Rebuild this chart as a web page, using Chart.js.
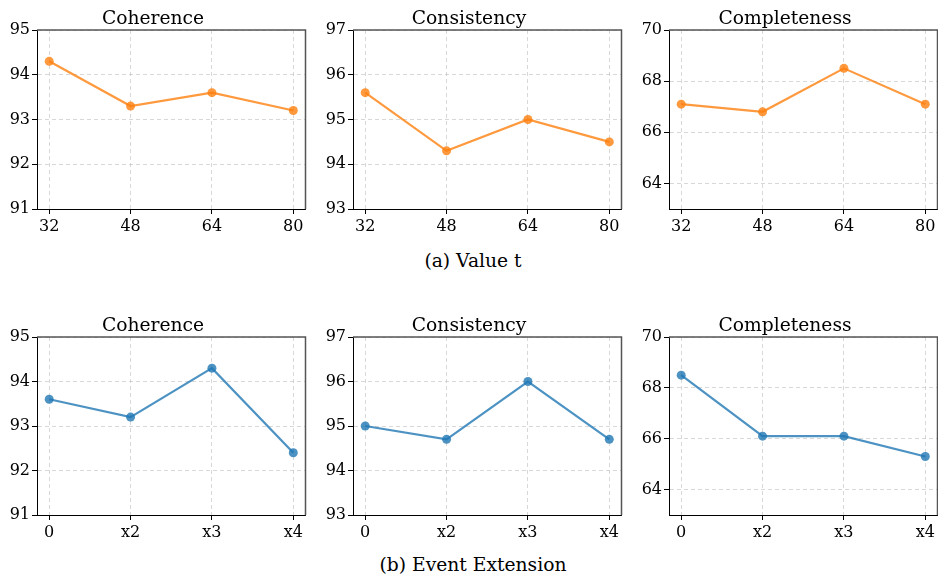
<!DOCTYPE html>
<html>
<head>
<meta charset="utf-8">
<script src="https://cdn.jsdelivr.net/npm/chart.js@4/dist/chart.umd.min.js"></script>
<style>
  html, body { margin: 0; padding: 0; background: #fff; overflow: hidden; }
  #page { position: relative; width: 938px; height: 577px; overflow: hidden; }
  canvas { position: absolute; }
  .caption {
    position: absolute; left: 0; width: 946px; text-align: center;
    font-family: 'DejaVu Serif', serif; font-size: 18.7px; line-height: 20px; color: #000;
  }
</style>
</head>
<body>
<div id="page">
  <canvas id="c0" width="310" height="239" style="left:0px;top:0px"></canvas>
  <canvas id="c1" width="310" height="239" style="left:316px;top:0px"></canvas>
  <canvas id="c2" width="310" height="239" style="left:632px;top:0px"></canvas>
  <div class="caption" style="top:251px">(a) Value t</div>
  <canvas id="c3" width="310" height="238" style="left:0px;top:307px"></canvas>
  <canvas id="c4" width="310" height="238" style="left:316px;top:307px"></canvas>
  <canvas id="c5" width="310" height="238" style="left:632px;top:307px"></canvas>
  <div class="caption" style="top:555px">(b) Event Extension</div>
</div>
<script>
// x categories
const valueTLabels = ['32', '48', '64', '80'];
const extensionLabels = ['0', 'x2', 'x3', 'x4'];

// (a) Value t
const valueTCoherence = [94.3, 93.3, 93.6, 93.2];
const valueTConsistency = [95.6, 94.3, 95.0, 94.5];
const valueTCompleteness = [67.1, 66.8, 68.5, 67.1];

// (b) Event Extension
const extensionCoherence = [93.6, 93.2, 94.3, 92.4];
const extensionConsistency = [95.0, 94.7, 96.0, 94.7];
const extensionCompleteness = [68.5, 66.1, 66.1, 65.3];

// y ticks per metric
const coherenceTicks = [91, 92, 93, 94, 95];
const consistencyTicks = [93, 94, 95, 96, 97];
const completenessTicks = [64, 66, 68, 70];
const completenessMin = 63;

Chart.defaults.font.family = "'DejaVu Serif', serif";
Chart.defaults.color = '#000';

const orange = 'rgba(255, 127, 14, 0.8)';
const blue = 'rgba(31, 119, 180, 0.8)';

// top and right spines, like a matplotlib box
const boxPlugin = {
  id: 'box',
  afterDatasetsDraw(chart) {
    const a = chart.chartArea;
    const ctx = chart.ctx;
    ctx.save();
    ctx.strokeStyle = '#555';
    ctx.lineWidth = 1.5;
    ctx.beginPath();
    ctx.moveTo(a.left, a.top);
    ctx.lineTo(a.right, a.top);
    ctx.lineTo(a.right, a.bottom);
    ctx.stroke();
    ctx.restore();
  }
};

makePanel = (id, title, labels, values, color, yTicks, yMin) => {
  const points = values.map((v, i) => ({x: i, y: v}));
  const gridOpts = {
    color: 'rgba(190, 190, 190, 0.75)',
    lineWidth: 0.8,
    drawTicks: true,
    tickLength: 5,
    tickColor: '#000',
    tickWidth: 1,
    tickBorderDash: []
  };
  // border.dash dashes the grid lines in v4, not the axis line
  const borderOpts = { color: '#000', width: 1, dash: [4, 3] };
  new Chart(document.getElementById(id), {
    type: 'line',
    data: {
      datasets: [{
        data: points,
        borderColor: color,
        backgroundColor: color,
        borderWidth: 2.2,
        pointRadius: 4.5,
        pointBorderWidth: 0,
        pointBackgroundColor: color,
        tension: 0
      }]
    },
    options: {
      responsive: false,
      animation: false,
      layout: { padding: { left: 0, right: 4, top: 0, bottom: 0 } },
      plugins: {
        legend: { display: false },
        tooltip: { enabled: false },
        title: {
          display: true,
          text: title,
          color: '#000',
          font: { size: 18.7, weight: 'normal', lineHeight: '22px' },
          padding: { top: 8, bottom: 0 }
        }
      },
      scales: {
        x: {
          type: 'linear',
          min: -0.15,
          max: 3.15,
          grid: gridOpts,
          border: borderOpts,
          afterBuildTicks: (scale) => {
            scale.ticks = labels.map((l, i) => ({value: i}));
          },
          afterFit: (scale) => { scale.height = 30; },
          ticks: {
            font: { size: 16 },
            padding: 3,
            maxRotation: 0,
            autoSkip: false,
            callback: (value) => labels[value]
          }
        },
        y: {
          type: 'linear',
          min: yMin,
          max: yTicks[yTicks.length - 1],
          grid: gridOpts,
          border: borderOpts,
          afterBuildTicks: (scale) => {
            scale.ticks = yTicks.map(v => ({value: v}));
          },
          afterFit: (scale) => { scale.width = 37; },
          ticks: {
            font: { size: 16 },
            padding: 2,
            callback: (value) => String(value)
          }
        }
      }
    },
    plugins: [boxPlugin]
  });
}

makePanel('c0', 'Coherence', valueTLabels, valueTCoherence, orange, coherenceTicks, coherenceTicks[0]);
makePanel('c1', 'Consistency', valueTLabels, valueTConsistency, orange, consistencyTicks, consistencyTicks[0]);
makePanel('c2', 'Completeness', valueTLabels, valueTCompleteness, orange, completenessTicks, completenessMin);
makePanel('c3', 'Coherence', extensionLabels, extensionCoherence, blue, coherenceTicks, coherenceTicks[0]);
makePanel('c4', 'Consistency', extensionLabels, extensionConsistency, blue, consistencyTicks, consistencyTicks[0]);
makePanel('c5', 'Completeness', extensionLabels, extensionCompleteness, blue, completenessTicks, completenessMin);
</script>
</body>
</html>
